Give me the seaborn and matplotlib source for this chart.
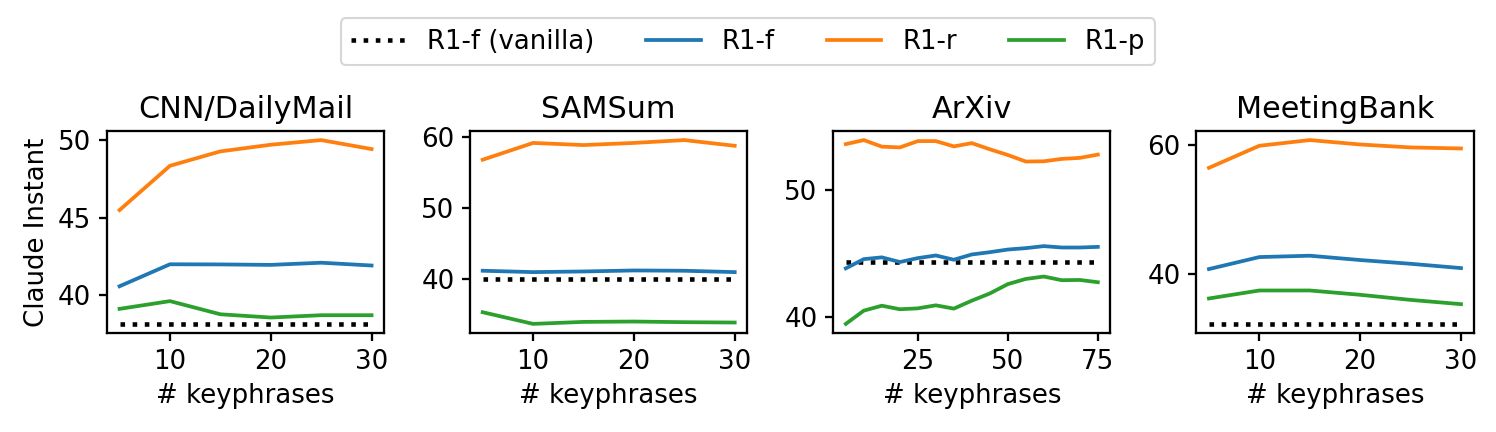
import numpy as np
import pandas as pd
import matplotlib
matplotlib.use("Agg")
import matplotlib.pyplot as plt
import seaborn as sns

# keyphrase counts
k_short = [5, 10, 15, 20, 25, 30]
k_arxiv = [5, 10, 15, 20, 25, 30, 35, 40, 45, 50, 55, 60, 65, 70, 75]

datasets = ["CNN/DailyMail", "SAMSum", "ArXiv", "MeetingBank"]

# CNN/DailyMail
cnn_f = [40.56, 41.98, 41.97, 41.94, 42.08, 41.90]
cnn_r = [45.48, 48.34, 49.27, 49.70, 50.00, 49.42]
cnn_p = [39.10, 39.60, 38.75, 38.54, 38.69, 38.69]
cnn_vanilla = 38.13

# SAMSum
sam_f = [41.13, 40.94, 41.03, 41.17, 41.13, 40.94]
sam_r = [56.74, 59.10, 58.80, 59.10, 59.50, 58.70]
sam_p = [35.30, 33.66, 33.94, 33.99, 33.90, 33.85]
sam_vanilla = 40.0

# ArXiv
arx_f = [43.82, 44.55, 44.69, 44.32, 44.63, 44.84, 44.50, 44.92,
         45.10, 45.31, 45.42, 45.58, 45.47, 45.47, 45.52]
arx_r = [53.66, 53.98, 53.46, 53.40, 53.90, 53.90, 53.48, 53.74,
         53.25, 52.80, 52.28, 52.30, 52.49, 52.57, 52.83]
arx_p = [39.42, 40.47, 40.86, 40.58, 40.65, 40.89, 40.63, 41.26,
         41.83, 42.57, 42.98, 43.17, 42.88, 42.90, 42.72]
arx_vanilla = 44.35

# MeetingBank
mb_f = [40.78, 42.64, 42.85, 42.18, 41.60, 40.93]
mb_r = [56.48, 59.90, 60.78, 60.10, 59.64, 59.48]
mb_p = [36.22, 37.46, 37.46, 36.79, 36.00, 35.34]
mb_vanilla = 32.28

panels = [
    (k_short, cnn_f, cnn_r, cnn_p, cnn_vanilla),
    (k_short, sam_f, sam_r, sam_p, sam_vanilla),
    (k_arxiv, arx_f, arx_r, arx_p, arx_vanilla),
    (k_short, mb_f, mb_r, mb_p, mb_vanilla),
]

colors = sns.color_palette("tab10")

fig, axes = plt.subplots(1, 4, figsize=(1496 / 150, 432 / 150), dpi=150)
plt.subplots_adjust(left=0.0715, right=0.985, top=0.697, bottom=0.229, wspace=0.31)

for ax, name, (ks, f, r, p, van) in zip(axes, datasets, panels):
    sns.lineplot(x=ks, y=[van] * len(ks), ax=ax, color="black", linestyle=":",
                 linewidth=2.2, label="R1-f (vanilla)")
    sns.lineplot(x=ks, y=f, ax=ax, color=colors[0], linewidth=1.8, label="R1-f")
    sns.lineplot(x=ks, y=r, ax=ax, color=colors[1], linewidth=1.8, label="R1-r")
    sns.lineplot(x=ks, y=p, ax=ax, color=colors[2], linewidth=1.8, label="R1-p")
    ax.set_title(name, fontsize=14.5)
    ax.set_xlabel("# keyphrases", fontsize=12.5)
    ax.tick_params(labelsize=12.5, width=1.1, length=4)
    for s in ax.spines.values():
        s.set_linewidth(1.1)
    ax.get_legend().remove()

axes[0].set_ylabel("Claude Instant", fontsize=12.5)
axes[1].set_yticks([40, 50, 60])
axes[2].set_xticks([25, 50, 75])
axes[2].set_yticks([40, 50])
axes[3].set_yticks([40, 60])

handles, labels = axes[0].get_legend_handles_labels()
fig.legend(handles, labels, loc="center", bbox_to_anchor=(0.5, 0.903), ncol=4,
           fontsize=12.5, handlelength=2.1, columnspacing=2.0)

plt.savefig("out.png", dpi=150)
